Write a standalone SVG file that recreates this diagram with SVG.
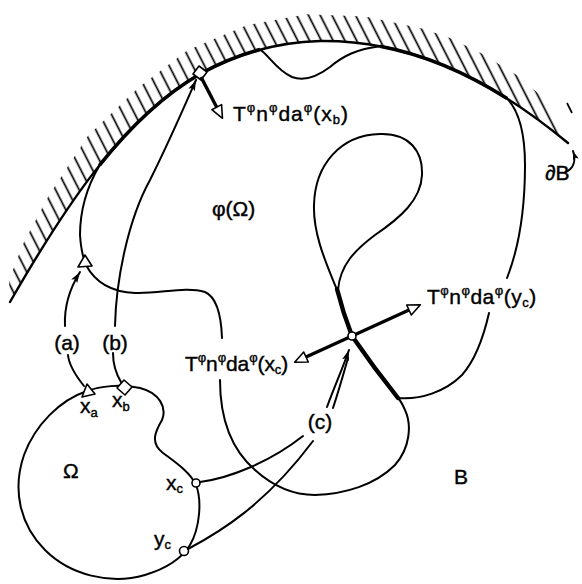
<svg xmlns="http://www.w3.org/2000/svg" width="582" height="584" viewBox="0 0 582 584">
<defs>
<style>
.ln{fill:none;stroke:#000;stroke-width:2;stroke-linecap:round;stroke-linejoin:round}
.bd{fill:none;stroke:#000;stroke-width:2.4;stroke-linecap:round}
.thk{fill:none;stroke:#000;stroke-width:3.6;stroke-linecap:butt}
.contact{fill:none;stroke:#000;stroke-width:4.4;stroke-linecap:round}
.force{fill:none;stroke:#000;stroke-width:3.4;stroke-linecap:butt}
.mk{fill:#fff;stroke:#000;stroke-width:1.6;stroke-linejoin:round}
.txt{font-family:"Liberation Sans",Arial,sans-serif;font-size:21px;fill:#000;stroke:#000;stroke-width:0.4}
.sp{font-size:13px}
.sb{font-size:13px}
</style>
<pattern id="hatch" patternUnits="userSpaceOnUse" width="10.5" height="10" patternTransform="rotate(-27)">
<rect x="4.5" y="0" width="1.7" height="10" fill="#000"/>
</pattern>
<marker id="ah" markerUnits="userSpaceOnUse" viewBox="0 0 12 8" markerWidth="12" markerHeight="8" refX="11" refY="4" orient="auto">
<path d="M0,0.5 L11,4 L0,7.5 L2.5,4 z" fill="#000"/>
</marker>
<marker id="ahs" markerUnits="userSpaceOnUse" viewBox="0 0 10 7" markerWidth="10" markerHeight="7" refX="9" refY="3.5" orient="auto">
<path d="M0,0.5 L9,3.5 L0,6.5 L2,3.5 z" fill="#000"/>
</marker>
<marker id="tri" markerUnits="userSpaceOnUse" viewBox="-2 -2 17 15" markerWidth="17" markerHeight="15" refX="0" refY="5.5" orient="auto">
<path d="M0,0 L12.5,5.5 L0,11 z" fill="#fff" stroke="#000" stroke-width="1.6" stroke-linejoin="round"/>
</marker>
</defs>

<g id="boundary-dB">
<path d="M10,302 C 60,215 120,120 200,74 C 240,52 280,42 320,41 C 400,40 480,70 568,143 L 546,100 L 517.5,75.5 L 481.4,53.3 L 450,38 L 422,28.4 L 365,16.6 L 306.5,14.3 L 247.4,25 L 187.9,50 L 137.9,88 L 87.9,136 L 48.7,195.8 L 23.5,243 L 9,280 Z" fill="url(#hatch)"/>
<line x1="567" y1="103" x2="572" y2="113" stroke="#000" stroke-width="1.7"/>
<path class="bd" d="M10,302 C 60,215 120,120 200,74 C 240,52 280,42 320,41 C 400,40 480,70 568,143"/>
</g>

<g id="phi-omega">
<path class="ln" d="M507,278 C 518,250 525,210 525,165 C 525,130 518,110 507.2,98.5 C 463.6,70.98 421.6,54.11 380.1,46.25 C 357,49 343,56 330,67 C 318,76 305,82 292,77 C 276,70 268,54 260,49.6 C 240,55 220,63 200,74 C 162.4,95.62 129.2,128.06 99.4,165.4 C 88,185 80,210 80,235 C 81,250 83,258 86,265 C 95,282 110,292 135,293 C 160,294 185,286 205,292 C 214,296 221,310 222,338"/>
<path class="ln" d="M220,380 C 220,420 232,450 255,470 C 275,488 295,495 315,495 C 345,494 375,485 395,465 C 410,448 412,425 405,410 C 402,403 400,400 398,398 C 420,400 445,392 462,375 C 477,358 484,335 489,313"/>
<path class="ln" d="M337,290 C 327,265 313,235 314,205 C 315,165 340,135 380,134 C 410,133 423,152 422,175 C 421,200 400,218 375,235 C 355,250 340,265 338,290"/>
<path class="thk" d="M99.4,165.4 C 129.2,128.06 162.4,95.62 200,74 C 220,63 240,55 260,49.6"/>
<path class="thk" d="M380.1,46.25 C 421.6,54.11 463.6,70.98 507.2,98.5"/>
<path class="contact" d="M337,289 Q 343,313 352,336 Q 374,368 398,398"/>
<polygon class="mk" points="78,267 92,266 85,255"/>
<polygon class="mk" points="199,66 207,72 201,80 193,74"/>
</g>

<g id="omega">
<path class="ln" d="M87,391 C 60,400 35,425 24,455 C 12,490 20,525 45,550 C 70,575 110,585 145,575 C 168,568 182,558 190,545 C 200,528 202,500 196,485 C 190,472 175,462 163,453 C 150,443 155,432 162,420 C 167,408 160,393 140,388 C 120,384 100,386 87,391 Z"/>
<polygon class="mk" points="82,397 95,394 87,384"/>
<polygon class="mk" points="124,380 132,387 125,395 117,388"/>
<circle class="mk" cx="196" cy="483" r="4"/>
<circle class="mk" cx="184" cy="551" r="4.5"/>
</g>

<g id="connectors">
<path class="ln" d="M84,386 C 76,376 69,366 68,355"/>
<path class="ln" d="M65,326 C 64,305 70,288 80,272" marker-end="url(#ah)"/>
<path class="ln" d="M121,382 C 115,372 113,362 113,353"/>
<path class="ln" d="M115,326 C 116,280 128,220 150,180 C 170,140 185,105 196,80" marker-end="url(#ah)"/>
<path class="ln" d="M200,482 C 230,478 270,462 303,436"/>
<path class="ln" d="M188,549 C 220,532 265,505 313,441"/>
<path class="ln" d="M327,407 C 335,385 342,370 349,350" marker-end="url(#ah)"/>
<path class="ln" d="M333,408 C 339,390 344,372 348,358"/>
<line class="force" x1="201" y1="77" x2="216.7" y2="107.2" marker-end="url(#tri)"/>
<line class="force" x1="352" y1="336" x2="409" y2="310" marker-end="url(#tri)"/>
<line class="force" x1="352" y1="336" x2="306" y2="357" marker-end="url(#tri)"/>
<circle class="mk" cx="352" cy="336" r="4"/>
<path class="ln" d="M566,172 C 574,168 576,160 573,151" stroke-width="1.6" marker-end="url(#ahs)"/>
</g>

<g id="labels">
<text class="txt" x="212" y="216" font-size="23">φ(Ω)</text>
<text class="txt" x="233" y="121" letter-spacing="1.0">T<tspan class="sp" dy="-9">φ</tspan><tspan dy="9">n</tspan><tspan class="sp" dy="-9">φ</tspan><tspan dy="9">da</tspan><tspan class="sp" dy="-9">φ</tspan><tspan dy="9">(x</tspan><tspan class="sb" dy="3">b</tspan><tspan dy="-3">)</tspan></text>
<text class="txt" x="427" y="304" letter-spacing="0.5">T<tspan class="sp" dy="-9">φ</tspan><tspan dy="9">n</tspan><tspan class="sp" dy="-9">φ</tspan><tspan dy="9">da</tspan><tspan class="sp" dy="-9">φ</tspan><tspan dy="9">(y</tspan><tspan class="sb" dy="3">c</tspan><tspan dy="-3">)</tspan></text>
<text class="txt" x="185" y="371" letter-spacing="-0.1">T<tspan class="sp" dy="-9">φ</tspan><tspan dy="9">n</tspan><tspan class="sp" dy="-9">φ</tspan><tspan dy="9">da</tspan><tspan class="sp" dy="-9">φ</tspan><tspan dy="9">(x</tspan><tspan class="sb" dy="3">c</tspan><tspan dy="-3">)</tspan></text>
<text class="txt" x="67" y="350" font-size="22" text-anchor="middle">(a)</text>
<text class="txt" x="115" y="350" font-size="22" text-anchor="middle">(b)</text>
<text class="txt" x="320" y="429" font-size="22" text-anchor="middle">(c)</text>
<text class="txt" x="80" y="413" font-size="22">x<tspan class="sb" dy="4">a</tspan></text>
<text class="txt" x="112" y="407" font-size="22">x<tspan class="sb" dy="4">b</tspan></text>
<text class="txt" x="166" y="490" font-size="22">x<tspan class="sb" dy="3">c</tspan></text>
<text class="txt" x="154" y="546" font-size="22">y<tspan class="sb" dy="3">c</tspan></text>
<text class="txt" x="63" y="478" font-size="26">Ω</text>
<text class="txt" x="454" y="484" font-size="25">B</text>
<text class="txt" x="545" y="180" font-size="21">∂B</text>
</g>
</svg>
